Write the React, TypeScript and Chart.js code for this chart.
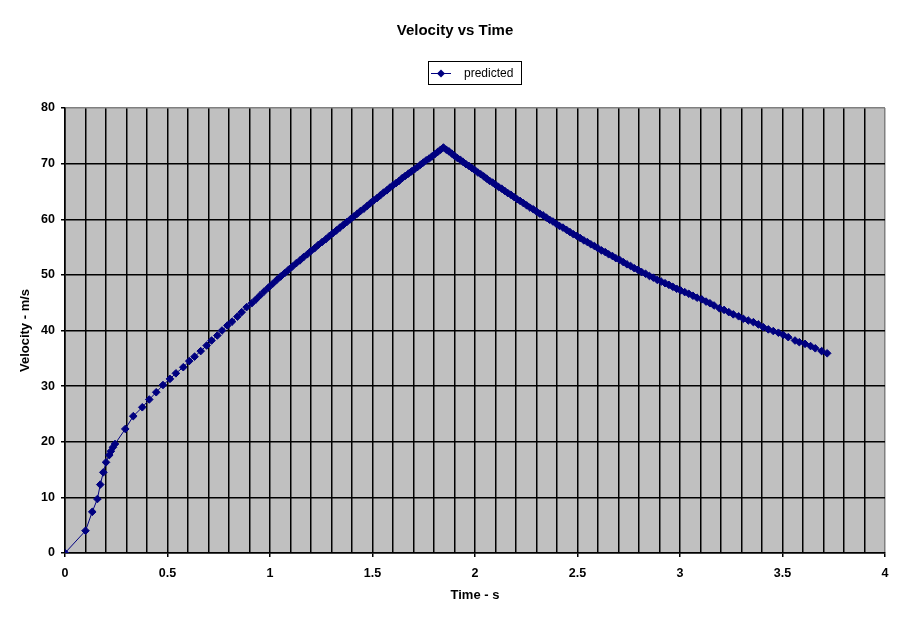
import { useEffect, useRef } from "react";
import { Chart, registerables } from "chart.js";

Chart.register(...registerables);

const chartTitle = "Velocity vs Time";
const seriesName = "predicted";
const xAxisTitle = "Time - s";
const yAxisTitle = "Velocity - m/s";

// time (s)
const timeS = [
  0, 0.1, 0.133, 0.158, 0.172, 0.187, 0.2, 0.216, 0.224, 0.234, 0.244, 0.294, 0.333, 0.377, 0.411, 0.445, 0.478,
  0.512, 0.541, 0.577, 0.606, 0.632, 0.662, 0.691, 0.715, 0.743, 0.766, 0.792, 0.815, 0.841, 0.862, 0.886, 0.911, 0.932, 0.951, 0.971, 0.992, 1.013,
  1.033, 1.052, 1.071, 1.09, 1.109, 1.128, 1.146, 1.164, 1.182, 1.2, 1.218, 1.236, 1.254, 1.272, 1.29, 1.307, 1.324, 1.341, 1.358, 1.375,
  1.392, 1.409, 1.426, 1.442, 1.458, 1.474, 1.49, 1.506, 1.522, 1.538, 1.554, 1.57, 1.585, 1.6, 1.615, 1.63, 1.645, 1.66, 1.675, 1.69,
  1.705, 1.72, 1.734, 1.748, 1.762, 1.776, 1.79, 1.804, 1.818, 1.832, 1.846,
  1.86, 1.873, 1.887, 1.9, 1.914, 1.928, 1.942, 1.956, 1.97, 1.985, 2.0, 2.014, 2.028, 2.043, 2.057, 2.071, 2.086, 2.1,
  2.115, 2.13, 2.145, 2.16, 2.175, 2.19, 2.205, 2.22, 2.236, 2.252, 2.268, 2.284, 2.3, 2.316, 2.332, 2.348, 2.364, 2.38, 2.396,
  2.412, 2.429, 2.446, 2.463, 2.48, 2.497, 2.514, 2.531, 2.548, 2.565, 2.582, 2.599, 2.617, 2.635, 2.652, 2.67, 2.687,
  2.705, 2.723, 2.741, 2.759, 2.777, 2.795, 2.813, 2.832, 2.851, 2.87, 2.889, 2.908, 2.927, 2.946, 2.965, 2.984,
  3.003, 3.023, 3.043, 3.063, 3.083,
  3.106, 3.127, 3.146, 3.166, 3.192, 3.215, 3.238, 3.26, 3.286, 3.309, 3.333, 3.358, 3.382, 3.406, 3.431, 3.455, 3.48, 3.504, 3.528, 3.561,
  3.582, 3.61, 3.637, 3.66, 3.691, 3.718,
];

// velocity (m/s)
const velocity = [
  0, 4.0, 7.4, 9.7, 12.3, 14.5, 16.3, 17.6, 18.3, 19.0, 19.6, 22.3, 24.6, 26.2, 27.6, 28.9, 30.2,
  31.3, 32.3, 33.4, 34.5, 35.3, 36.3, 37.3, 38.2, 39.1, 40.0, 40.9, 41.6, 42.5, 43.3, 44.2, 44.9, 45.6, 46.3, 47.0, 47.7, 48.4,
  49.1, 49.7, 50.3, 50.9, 51.5, 52.1, 52.6, 53.2, 53.7, 54.3, 54.8, 55.4, 55.9, 56.4, 57.0, 57.5, 58.0, 58.5, 59.0, 59.5,
  60.0, 60.5, 61.0, 61.5, 61.9, 62.4, 62.9, 63.4, 63.8, 64.3, 64.8, 65.2, 65.7, 66.1, 66.5, 66.9, 67.4, 67.8, 68.2, 68.6,
  69.0, 69.4, 69.8, 70.2, 70.6, 70.9, 71.3, 71.7, 72.1, 72.5, 72.9,
  72.5, 72.2, 71.8, 71.4, 71.0, 70.7, 70.3, 69.9, 69.6, 69.2, 68.8, 68.4, 68.1, 67.7, 67.3, 66.9, 66.6, 66.2,
  65.8, 65.5, 65.1, 64.7, 64.4, 64.0, 63.6, 63.3, 62.9, 62.5, 62.1, 61.8, 61.4, 61.0, 60.7, 60.3, 59.9, 59.6, 59.2,
  58.8, 58.5, 58.1, 57.7, 57.3, 57.0, 56.6, 56.2, 55.9, 55.5, 55.2, 54.8, 54.4, 54.1, 53.7, 53.4, 53.0,
  52.7, 52.3, 51.9, 51.6, 51.2, 50.9, 50.5, 50.2, 49.8, 49.5, 49.1, 48.8, 48.5, 48.2, 47.85, 47.5,
  47.2, 46.9, 46.6, 46.25, 45.9,
  45.6, 45.2, 44.9, 44.5, 44.0, 43.7, 43.3, 42.9, 42.55, 42.1, 41.8, 41.5, 41.1, 40.6, 40.2, 39.9, 39.6, 39.2, 38.8, 38.2,
  37.9, 37.6, 37.2, 36.8, 36.3, 35.9,
];

// axis ranges / ticks
const xRange = [0, 4];
const xGridStep = 0.1;
const xLabelStep = 0.5;
const yRange = [0, 80];
const yStep = 10;

const FONT = "'Liberation Sans', Arial, Helvetica, sans-serif";
const NAVY = "#000080";
const PLOT_BG = "#C0C0C0";
const BORDER_GREY = "#808080";

const isLabelTick = (v: number) => Math.abs(v / xLabelStep - Math.round(v / xLabelStep)) < 1e-6;

export default function App() {
  const ref = useRef<HTMLCanvasElement>(null);

  useEffect(() => {
    document.body.style.margin = "0";
    document.body.style.background = "#ffffff";
    const canvas = ref.current;
    if (!canvas) return;

    const decor = {
      id: "decor",
      beforeDraw(chart: any) {
        const { ctx, chartArea: a } = chart;
        ctx.save();
        ctx.fillStyle = "#ffffff";
        ctx.fillRect(0, 0, chart.width, chart.height);
        ctx.fillStyle = PLOT_BG;
        ctx.fillRect(a.left, a.top, a.right - a.left, a.bottom - a.top);
        ctx.restore();
      },
      afterDraw(chart: any) {
        const { ctx, chartArea: a } = chart;
        ctx.save();
        ctx.fillStyle = "#000";
        ctx.textAlign = "center";
        ctx.textBaseline = "middle";
        // title
        ctx.font = `bold 15px ${FONT}`;
        ctx.fillText(chartTitle, 455, 31);
        // x axis title
        ctx.font = `bold 13px ${FONT}`;
        ctx.fillText(xAxisTitle, (a.left + a.right) / 2, 595);
        // y axis title
        ctx.save();
        ctx.translate(25, (a.top + a.bottom) / 2);
        ctx.rotate(-Math.PI / 2);
        ctx.fillText(yAxisTitle, 0, 0);
        ctx.restore();
        // legend
        ctx.fillStyle = "#ffffff";
        ctx.fillRect(428.5, 61.5, 93, 23);
        ctx.strokeStyle = "#000";
        ctx.lineWidth = 1;
        ctx.strokeRect(428.5, 61.5, 93, 23);
        ctx.strokeStyle = NAVY;
        ctx.beginPath();
        ctx.moveTo(431, 73.5);
        ctx.lineTo(451, 73.5);
        ctx.stroke();
        ctx.fillStyle = NAVY;
        ctx.beginPath();
        ctx.moveTo(441, 69.5);
        ctx.lineTo(445, 73.5);
        ctx.lineTo(441, 77.5);
        ctx.lineTo(437, 73.5);
        ctx.closePath();
        ctx.fill();
        ctx.fillStyle = "#000";
        ctx.textAlign = "left";
        ctx.font = `12px ${FONT}`;
        ctx.fillText(seriesName, 464, 73.5);
        ctx.restore();
      },
    };

    const chart = new Chart(canvas, {
      type: "scatter",
      data: {
        datasets: [
          {
            label: seriesName,
            data: timeS.map((t, i) => ({ x: t, y: velocity[i] })),
            showLine: true,
            borderColor: NAVY,
            borderWidth: 1,
            backgroundColor: NAVY,
            pointStyle: "rectRot",
            pointRadius: 3.8,
            pointBorderWidth: 1,
            pointBorderColor: NAVY,
            pointBackgroundColor: NAVY,
            pointHoverRadius: 3.8,
          },
        ],
      },
      options: {
        animation: false,
        responsive: false,
        maintainAspectRatio: false,
        events: [],
        layout: { padding: { left: 0, top: 108, right: 26, bottom: 0 } },
        plugins: {
          legend: { display: false },
          title: { display: false },
          tooltip: { enabled: false },
        },
        scales: {
          x: {
            type: "linear",
            position: "bottom",
            min: xRange[0],
            max: xRange[1],
            afterFit(scale: any) {
              scale.height = 70;
            },
            ticks: {
              stepSize: xGridStep,
              autoSkip: false,
              maxRotation: 0,
              minRotation: 0,
              padding: 9,
              color: "#000",
              font: { family: FONT, size: 12.5, weight: "bold" },
              callback: (v: any) => (isLabelTick(Number(v)) ? String(Math.round(Number(v) * 2) / 2) : ""),
            },
            grid: {
              color: (c: any) =>
                c.tick && Math.abs(c.tick.value - xRange[1]) < 1e-6 ? BORDER_GREY : "#000",
              lineWidth: 1.5,
              tickLength: 4,
              tickColor: (c: any) => (c.tick && isLabelTick(c.tick.value) ? "#000" : "rgba(0,0,0,0)"),
            },
            border: { color: "#000", width: 1.5 },
          },
          y: {
            type: "linear",
            min: yRange[0],
            max: yRange[1],
            afterFit(scale: any) {
              scale.width = 65;
            },
            ticks: {
              stepSize: yStep,
              padding: 6,
              color: "#000",
              font: { family: FONT, size: 12.5, weight: "bold" },
            },
            grid: {
              color: (c: any) => (c.tick && c.tick.value === yRange[1] ? BORDER_GREY : "#000"),
              lineWidth: 1.5,
              tickLength: 4,
              tickColor: "#000",
            },
            border: { color: "#000", width: 1.5 },
          },
        },
      },
      plugins: [decor],
    } as any);

    return () => chart.destroy();
  }, []);

  return <canvas ref={ref} width={911} height={623} style={{ display: "block", width: 911, height: 623 }} />;
}
